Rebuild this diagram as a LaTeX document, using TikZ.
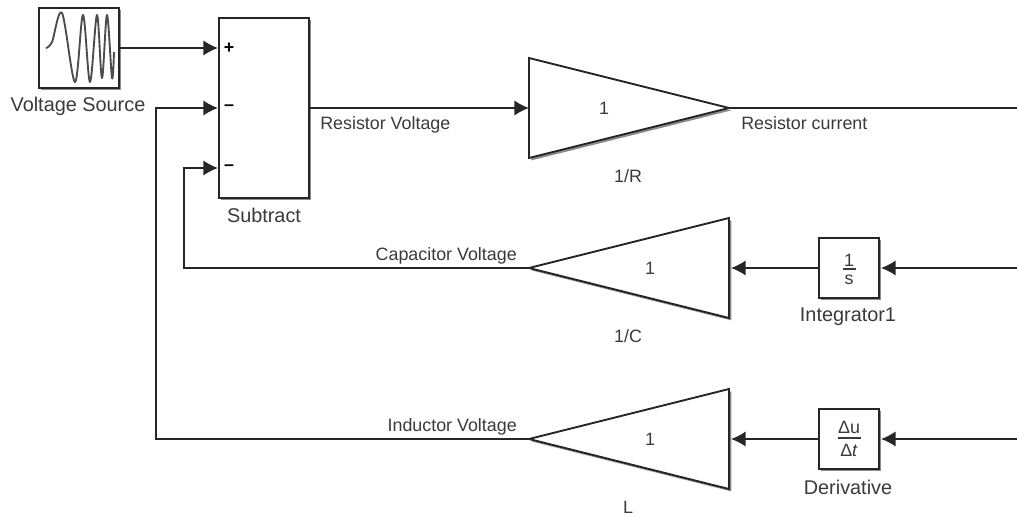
\documentclass[tikz,border=0pt]{standalone}
\usepackage{amsmath}
\usepackage{fontspec}
\setmainfont{Liberation Sans}
\usepackage{xcolor}
\usepackage{tikz}
\usetikzlibrary{shapes.geometric,arrows.meta,shadows}
\definecolor{labelgray}{HTML}{3A3A3A}
\tikzset{
  blockshadow/.style={drop shadow={shadow xshift=1.8pt,shadow yshift=-1.8pt,opacity=0.45,fill=black}},
  blockbox/.style={draw=black!85,line width=1.4pt,fill=white,inner sep=0pt,blockshadow},
  gainblock/.style={draw=black!85,line width=1.4pt,fill=white,inner sep=0pt,outer sep=0pt,
    isosceles triangle,isosceles triangle stretches,minimum width=75pt,minimum height=150pt,blockshadow},
  wire/.style={draw=black!85,line width=1.2pt},
  sigwire/.style={wire,-{Latex[length=11pt,width=11.5pt]}},
  fracbar/.style={draw=labelgray,line width=0.9pt},
  blockname/.style={text=labelgray,font=\fontsize{14.9}{16}\selectfont,inner sep=0pt},
  signame/.style={text=labelgray,font=\fontsize{13.4}{15}\selectfont,inner sep=0pt},
  gainval/.style={text=labelgray,font=\fontsize{13.4}{15}\selectfont,inner sep=0pt},
  portsign/.style={text=black,font=\fontsize{13.4}{15}\bfseries\selectfont,inner sep=0pt}
}
\begin{document}
\begin{tikzpicture}[x=0.75pt,y=-0.75pt]
\useasboundingbox (0,0) rectangle (1017,516);
\node[blockbox,minimum size=60pt] (source) at (79,48) {};
\node[blockbox,minimum width=67.5pt,minimum height=135pt] (subtract) at (264,108) {};
\node[gainblock,anchor=lower side] (gainR) at (529,108) {};
\node[gainblock,shape border rotate=180,anchor=lower side] (gainC) at (729,268) {};
\node[gainblock,shape border rotate=180,anchor=lower side] (gainL) at (729,439) {};
\node[blockbox,minimum size=45pt] (integrator) at (849,268) {};
\node[blockbox,minimum size=45pt] (derivative) at (849,439) {};

\draw[black!70,line width=1.4pt,line join=round] plot[smooth,tension=0.55] coordinates {(46,48) (52,42) (62,13) (75,82) (83,15) (90,82) (97,15) (102,78) (107,15) (112,78) (114,52)};

\node[gainval] (integratornum) at (849,260) {1};
\node[gainval] (integratorden) at (849,280) {s};
\node[gainval] (derivativenum) at (849,427) {Δu};
\node[gainval] (derivativeden) at (849,450) {Δ\textit{t}};
\coordinate (barAl) at (843,269);
\coordinate (barAr) at (856,269);
\coordinate (barBl) at (838,438);
\coordinate (barBr) at (861,438);
\draw[fracbar] (barAl) -- (barAr);
\draw[fracbar] (barBl) -- (barBr);

\node[blockname] (sourcename) at (78,106.5) {Voltage Source};
\node[blockname] (subtractname) at (264,215) {Subtract};
\node[blockname] (integratorname) at (848,317) {Integrator1};
\node[blockname] (derivativename) at (848,487) {Derivative};

\node[gainval] (gainRval) at (604,108) {1};
\node[gainval] (gainCval) at (650,268) {1};
\node[gainval] (gainLval) at (650,439) {1};
\node[signame] (gainRname) at (628,176) {1/R};
\node[signame] (gainCname) at (628,336) {1/C};
\node[signame] (gainLname) at (628,507) {L};

\node[signame,anchor=west] (resvolt) at (320,124.5) {Resistor Voltage};
\node[signame,anchor=west] (rescurr) at (741,123) {Resistor current};
\node[signame,anchor=east] (capvolt) at (517,255.5) {Capacitor Voltage};
\node[signame,anchor=east] (indvolt) at (517,426.5) {Inductor Voltage};

\node[portsign] (portAsign) at (229,48) {+};
\node[portsign] (portBsign) at (229,108) {–};
\node[portsign] (portCsign) at (229,168) {–};

\coordinate (portA) at (218,48);
\coordinate (portB) at (218,108);
\coordinate (portC) at (218,168);
\coordinate (cornerLtop) at (156,108);
\coordinate (cornerLbot) at (156,439);
\coordinate (cornerCtop) at (184,168);
\coordinate (cornerCbot) at (184,268);
\coordinate (edgeR) at (1017,108);
\coordinate (edgeC) at (1017,268);
\coordinate (edgeL) at (1017,439);
\coordinate (tipC) at (731,268);
\coordinate (tipL) at (731,439);
\coordinate (tipI) at (881,268);
\coordinate (tipD) at (881,439);

\draw[sigwire] (source.east) -- (portA);
\draw[sigwire] (gainL.apex) -- (cornerLbot) -- (cornerLtop) -- (portB);
\draw[sigwire] (gainC.apex) -- (cornerCbot) -- (cornerCtop) -- (portC);
\draw[sigwire] (subtract.east |- gainR.lower side) -- (gainR.lower side);
\draw[wire] (gainR.apex) -- (edgeR);
\draw[sigwire] (integrator.west) -- (tipC);
\draw[sigwire] (derivative.west) -- (tipL);
\draw[sigwire] (edgeC) -- (tipI);
\draw[sigwire] (edgeL) -- (tipD);
\end{tikzpicture}
\end{document}
